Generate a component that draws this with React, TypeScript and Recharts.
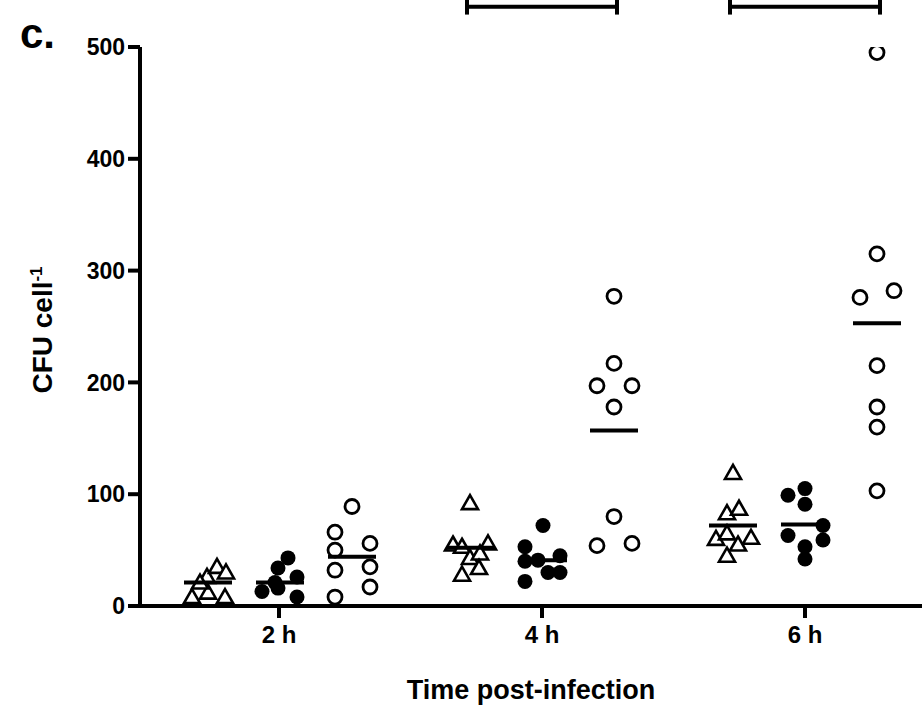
import React from 'react';
import { ScatterChart, Scatter, XAxis, YAxis, ReferenceLine } from 'recharts';

// x = horizontal position on the axis (tick 2 h = 279, 4 h = 542, 6 h = 805), y = CFU cell-1
const TIME_TICKS = [279, 542, 805];
const TIME_LABELS = ['2 h', '4 h', '6 h'];
const Y_TICKS = [0, 100, 200, 300, 400, 500];

const triangles = [
  { x: 192, y: 8 }, { x: 208, y: 12 }, { x: 225, y: 8 }, { x: 207, y: 26 },
  { x: 217, y: 35 }, { x: 226, y: 30 }, { x: 200, y: 21 },
  { x: 470, y: 92 }, { x: 453, y: 55 }, { x: 462, y: 53 }, { x: 488, y: 56 },
  { x: 470, y: 43 }, { x: 480, y: 47 }, { x: 462, y: 28 }, { x: 479, y: 34 },
  { x: 733, y: 119 }, { x: 727, y: 83 }, { x: 739, y: 87 }, { x: 716, y: 60 },
  { x: 727, y: 65 }, { x: 751, y: 61 }, { x: 738, y: 55 }, { x: 727, y: 45 },
];

const filled = [
  { x: 262, y: 13 }, { x: 278, y: 16 }, { x: 297, y: 8 }, { x: 297, y: 26 },
  { x: 278, y: 34 }, { x: 288, y: 43 }, { x: 275, y: 21 },
  { x: 543, y: 72 }, { x: 525, y: 53 }, { x: 525, y: 40 }, { x: 538, y: 41 },
  { x: 560, y: 45 }, { x: 548, y: 30 }, { x: 560, y: 30 }, { x: 525, y: 22 },
  { x: 788, y: 99 }, { x: 805, y: 105 }, { x: 805, y: 91 }, { x: 823, y: 72 },
  { x: 788, y: 63 }, { x: 823, y: 59 }, { x: 805, y: 53 }, { x: 805, y: 42 },
];

const open = [
  { x: 335, y: 8 }, { x: 335, y: 32 }, { x: 335, y: 50 }, { x: 335, y: 66 },
  { x: 352, y: 89 }, { x: 370, y: 56 }, { x: 370, y: 35 }, { x: 370, y: 17 },
  { x: 614, y: 277 }, { x: 614, y: 217 }, { x: 597, y: 197 }, { x: 632, y: 197 },
  { x: 614, y: 178 }, { x: 614, y: 80 }, { x: 597, y: 54 }, { x: 632, y: 56 },
  { x: 877, y: 495 }, { x: 877, y: 315 }, { x: 860, y: 276 }, { x: 894, y: 282 },
  { x: 877, y: 215 }, { x: 877, y: 178 }, { x: 877, y: 160 }, { x: 877, y: 103 },
];

const means = [
  { x: 208, y: 21 }, { x: 280, y: 21 }, { x: 352, y: 44 },
  { x: 471, y: 52 }, { x: 543, y: 41 }, { x: 614, y: 157 },
  { x: 733, y: 72 }, { x: 805, y: 73 }, { x: 877, y: 253 },
];

// significance brackets above the plot
const brackets = [
  { x1: 467, x2: 617 },
  { x1: 730, x2: 880 },
];
const BRACKET_Y = 536;
const BRACKET_TICK_Y = 529;

const FONT = '"Liberation Sans", Arial, sans-serif';

const Triangle = ({ cx, cy }: any) => (
  <path d={`M${cx},${cy - 8} L${cx + 8},${cy + 6} L${cx - 8},${cy + 6} Z`} fill="#fff" stroke="#000" strokeWidth={2.6} strokeLinejoin="miter" />
);
const Dot = ({ cx, cy }: any) => <circle cx={cx} cy={cy} r={7.5} fill="#000" />;
const Ring = ({ cx, cy }: any) => <circle cx={cx} cy={cy} r={7} fill="#fff" stroke="#000" strokeWidth={2.8} />;
const Dash = ({ cx, cy }: any) => <line x1={cx - 24} x2={cx + 24} y1={cy} y2={cy} stroke="#000" strokeWidth={4} />;

const YLabel = () => (
  <text x={0} y={0} transform="translate(52,330) rotate(-90)" textAnchor="middle" fontFamily={FONT} fontWeight="bold" fontSize={28} fill="#000">
    CFU cell<tspan dy={-10} fontSize={17}>-1</tspan>
  </text>
);

export default function App() {
  return (
    <div style={{ position: 'absolute', left: 0, top: 0, width: 922, height: 705, background: '#fff' }}>
      <ScatterChart width={922} height={705} margin={{ top: 47, right: 0, bottom: 0, left: 0 }}>
        <XAxis
          type="number" dataKey="x" domain={[140, 922]} ticks={TIME_TICKS} allowDataOverflow
          tickFormatter={(v: number) => TIME_LABELS[TIME_TICKS.indexOf(v)]}
          axisLine={{ stroke: '#000', strokeWidth: 4 }} tickLine={{ stroke: '#000', strokeWidth: 4 }} tickSize={12}
          tick={{ fill: '#000', fontSize: 24, fontWeight: 'bold', fontFamily: FONT, dy: 6 }}
          height={99}
          label={{ value: 'Time post-infection', position: 'insideBottom', offset: 6, fill: '#000', fontSize: 27, fontWeight: 'bold', fontFamily: FONT }}
        />
        <YAxis
          type="number" dataKey="y" domain={[0, 500]} ticks={Y_TICKS} allowDataOverflow
          axisLine={{ stroke: '#000', strokeWidth: 4 }} tickLine={{ stroke: '#000', strokeWidth: 4 }} tickSize={12}
          tick={{ fill: '#000', fontSize: 23, fontWeight: 'bold', fontFamily: FONT, dx: -1 }}
          width={140}
          label={<YLabel />}
        />
        {brackets.map((b, i) => (
          <ReferenceLine key={`b${i}`} segment={[{ x: b.x1, y: BRACKET_Y }, { x: b.x2, y: BRACKET_Y }]} stroke="#000" strokeWidth={4} ifOverflow="visible" />
        ))}
        {brackets.flatMap((b, i) => [b.x1, b.x2].map((x, j) => (
          <ReferenceLine key={`t${i}${j}`} segment={[{ x, y: BRACKET_TICK_Y }, { x, y: BRACKET_Y + 7 }]} stroke="#000" strokeWidth={4} ifOverflow="visible" />
        )))}
        <Scatter data={triangles} shape={<Triangle />} isAnimationActive={false} />
        <Scatter data={filled} shape={<Dot />} isAnimationActive={false} />
        <Scatter data={open} shape={<Ring />} isAnimationActive={false} />
        <Scatter data={means} shape={<Dash />} isAnimationActive={false} />
      </ScatterChart>
      <div style={{ position: 'absolute', left: 20, top: 10, fontFamily: FONT, fontWeight: 'bold', fontSize: 42, color: '#000' }}>c.</div>
    </div>
  );
}
